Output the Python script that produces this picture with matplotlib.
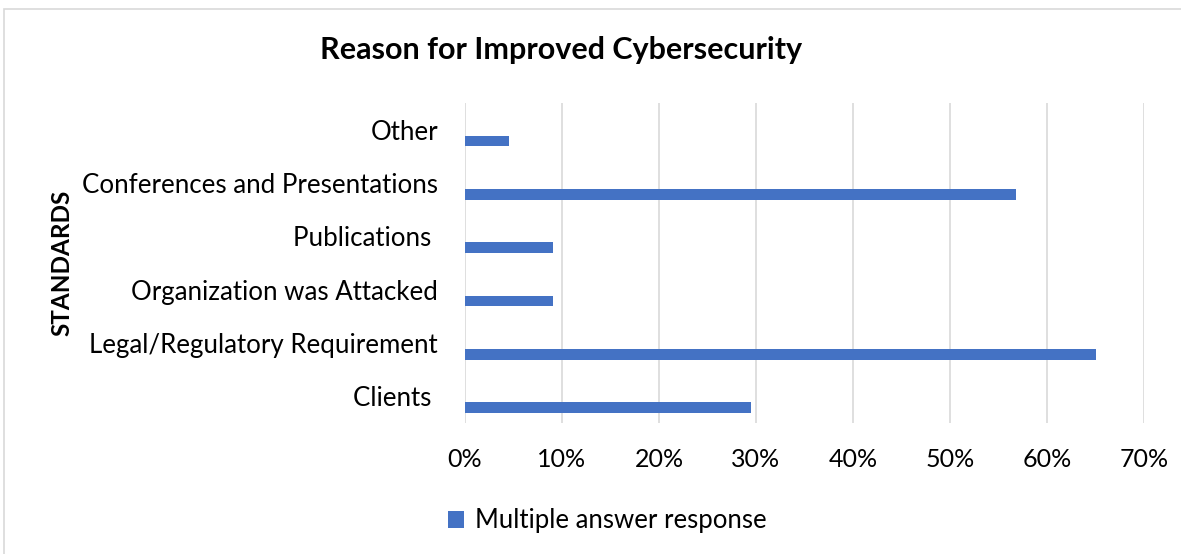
import matplotlib
matplotlib.use("Agg")
from matplotlib import pyplot as plt
from matplotlib.patches import Rectangle
from matplotlib.ticker import PercentFormatter, MultipleLocator

plt.rcParams["font.family"] = ["Lato", "DejaVu Sans"]

# Survey data, listed from top to bottom as in the chart
categories = ["Other", "Conferences and Presentations", "Publications ",
              "Organization was Attacked", "Legal/Regulatory Requirement", "Clients "]
shares = [0.045, 0.568, 0.091, 0.091, 0.650, 0.295]
series_name = "Multiple answer response"

bar_color = "#4472C4"
grid_color = "#D9D9D9"
font_size = 18

fig = plt.figure(figsize=(11.81, 5.54), dpi=100)
ax = fig.add_axes([0.3937, 0.2365, 0.575, 0.5776])

# reversed so the first category sits on top
ypos = list(range(len(categories)))[::-1]
bar_offset = 0.21
ax.barh([y - bar_offset for y in ypos], shares, height=0.2,
        color=bar_color, label=series_name)

ax.set_xlim(0, 0.7)
ax.set_ylim(-0.5, len(categories) - 0.5)
ax.xaxis.set_major_locator(MultipleLocator(0.1))
ax.xaxis.set_major_formatter(PercentFormatter(1.0, decimals=0))
ax.set_yticks(ypos)
ax.set_yticklabels(categories, fontsize=18.6)
ax.tick_params(axis="x", labelsize=font_size, length=0, pad=18)
ax.tick_params(axis="y", length=0, pad=19.5)
ax.grid(axis="x", color=grid_color, linewidth=1.2)
ax.set_axisbelow(True)
for side in ax.spines.values():
    side.set_visible(False)

ax.set_ylabel("STANDARDS", fontsize=17.5, fontweight="bold", va="center")
ax.yaxis.set_label_coords(-0.594, 0.5)

fig.text(0.475, 0.909, "Reason for Improved Cybersecurity",
         fontsize=22, fontweight="bold", ha="center", va="center")

fig.legend(loc="center", bbox_to_anchor=(0.514, 0.06), frameon=False,
           fontsize=18.5, handlelength=0.65, handleheight=0.65,
           handletextpad=0.4)

# outer chart border (cropped on right/bottom like the reference)
fig.patches.append(Rectangle((4 / 1181, -0.05), 1.1, 1 - 9 / 554 + 0.05,
                             transform=fig.transFigure, fill=False,
                             edgecolor=grid_color, linewidth=1.2))

fig.savefig("out.png", dpi=100)
